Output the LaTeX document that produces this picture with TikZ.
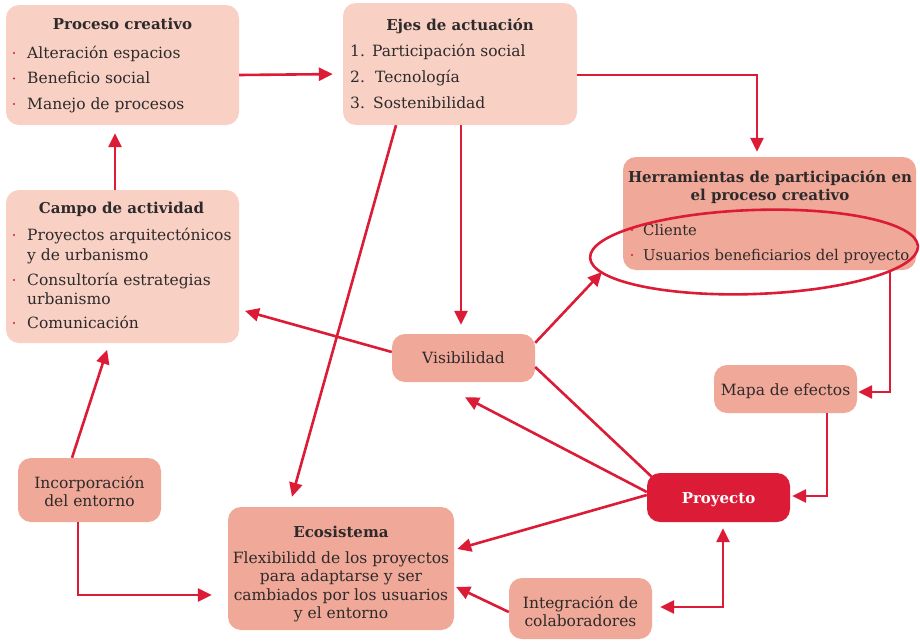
\documentclass[tikz,border=0pt]{standalone}
\usepackage{fontspec}
\setmainfont{DejaVu Serif}
\usetikzlibrary{arrows.meta,shapes.geometric,calc}
\definecolor{lightfill}{HTML}{F8D1C4}
\definecolor{midfill}{HTML}{F0A898}
\definecolor{redc}{HTML}{DC1B36}
\definecolor{txtc}{HTML}{2E2A2B}
\newcommand\bodyf{\fontsize{15.5}{18}\selectfont}
\newcommand\smallbodyf{\fontsize{14.8}{18}\selectfont}
\newcommand\titf{\fontsize{15}{18}\selectfont\bfseries}
\begin{document}
\begin{tikzpicture}[x=1pt,y=-1pt,
 box/.style={rectangle, rounded corners=13pt, draw=none, inner sep=0pt},
 lbox/.style={box, fill=lightfill},
 mbox/.style={box, fill=midfill},
 rbox/.style={box, fill=redc},
 tx/.style={anchor=base, inner sep=0pt, text=txtc, font=\bodyf},
 txl/.style={tx, anchor=base west},
 tt/.style={anchor=base, inner sep=0pt, text=txtc, font=\titf},
 arr/.style={draw=redc, line width=2.6pt, -{Triangle[length=14pt,width=13pt]}},
 ln/.style={draw=redc, line width=2.6pt},
 dotb/.style={circle, fill=redc, inner sep=0pt, minimum size=2.4pt},
]
\useasboundingbox (0,0) rectangle (920,640);
% boxes
\node[lbox, minimum width=233pt, minimum height=120pt] (proc) at (122.5,65) {};
\node[lbox, minimum width=234pt, minimum height=122pt] (ejes) at (460,64) {};
\node[mbox, minimum width=293pt, minimum height=113pt] (herr) at (769.5,213.5) {};
\node[lbox, minimum width=233pt, minimum height=153pt] (campo) at (122.5,266.5) {};
\node[mbox, minimum width=143pt, minimum height=48pt] (vis) at (463.5,358) {};
\node[mbox, minimum width=143pt, minimum height=48pt] (mapa) at (785.5,389) {};
\node[rbox, minimum width=143pt, minimum height=49pt] (proy) at (718.5,497.5) {};
\node[mbox, minimum width=143pt, minimum height=64pt] (inc) at (89.5,490) {};
\node[mbox, minimum width=226pt, minimum height=123pt] (eco) at (341,568.5) {};
\node[mbox, minimum width=143pt, minimum height=61pt] (integ) at (580.5,608.5) {};
% Proceso creativo
\node[tt] (procT) at (122.5,29) {Proceso creativo};
\node[dotb] (pb1) at (14,53) {};
\node[dotb] (pb2) at (14,78.5) {};
\node[dotb] (pb3) at (14,104) {};
\node[txl] (proc1) at (27,58) {Alteración espacios};
\node[txl] (proc2) at (27,83.5) {Beneficio social};
\node[txl] (proc3) at (27,109) {Manejo de procesos};
% Ejes
\node[tt] (ejesT) at (460,30) {Ejes de actuación};
\node[txl] (en1) at (350,56) {1.};
\node[txl] (en2) at (350,82.5) {2.};
\node[txl] (en3) at (350,108) {3.};
\node[txl] (ejes1) at (372,56) {Participación social};
\node[txl] (ejes2) at (375,82.5) {Tecnología};
\node[txl] (ejes3) at (373,108) {Sostenibilidad};
% Herramientas
\node[tt] (herrT1) at (770,182) {Herramientas de participación en};
\node[tt] (herrT2) at (770,200) {el proceso creativo};
\node[dotb] (hb1) at (632,230) {};
\node[dotb] (hb2) at (632,255) {};
\node[txl, font=\smallbodyf] (herr1) at (643,235) {Cliente};
\node[txl, font=\smallbodyf] (herr2) at (643,260) {Usuarios beneficiarios del proyecto};
% Campo
\node[tt] (campoT) at (121.5,213) {Campo de actividad};
\node[dotb] (cb1) at (14,235) {};
\node[dotb] (cb2) at (14,280) {};
\node[dotb] (cb3) at (14,323) {};
\node[txl] (campo1) at (27,240) {Proyectos arquitectónicos};
\node[txl] (campo1b) at (27,260) {y de urbanismo};
\node[txl] (campo2) at (27,285) {Consultoría estrategias};
\node[txl] (campo2b) at (27,304) {urbanismo};
\node[txl] (campo3) at (27,328) {Comunicación};
% small boxes
\node[tx] (visT) at (463.5,363) {Visibilidad};
\node[tx] (mapaT) at (785.5,395) {Mapa de efectos};
\node[anchor=base, inner sep=0pt, text=white, font=\titf] (proyT) at (718.5,503) {Proyecto};
\node[tx] (incT1) at (89.5,488) {Incorporación};
\node[tx] (incT2) at (89.5,506.5) {del entorno};
\node[tx] (integT1) at (580.5,608) {Integración de};
\node[tx] (integT2) at (580.5,626.5) {colaboradores};
% Ecosistema
\node[tt] (ecoT) at (341,537) {Ecosistema};
\node[tx] (eco1) at (341,563) {Flexibilidd de los proyectos};
\node[tx] (eco2) at (341,581.5) {para adaptarse y ser};
\node[tx] (eco3) at (341,600) {cambiados por los usuarios};
\node[tx] (eco4) at (341,618.5) {y el entorno};
% ellipse
\node[ellipse, draw=redc, line width=2.6pt, minimum width=328pt, minimum height=84pt, inner sep=0pt, rotate=2] (ell) at (754,252) {};
\coordinate (ellpt) at (602,272);
% connectors
\draw[arr, shorten >=10pt] ([yshift=-10pt]proc.east) -- ([yshift=-10pt]ejes.west);
\draw[arr, shorten >=5pt] ([yshift=-11pt]ejes.east) -| ([xshift=-12.5pt]herr.north);
\draw[arr, shorten >=8pt] ([xshift=-7.5pt]campo.north) -- ([xshift=-7.5pt]proc.south);
\draw[arr, shorten >=9pt] ([xshift=1pt]ejes.south) -- ([xshift=-2.5pt]vis.north);
\draw[arr, shorten >=10.4pt] ([xshift=-64pt]ejes.south) -- ([xshift=-51.8pt]eco.north);
\draw[arr, shorten >=6pt] ([yshift=6pt]vis.west) -- ([yshift=-42.8pt]campo.east);
\draw[arr] ([yshift=-9pt]vis.north east) -- (ellpt);
\draw[ln] ([yshift=-9pt]vis.east) -- ([xshift=6pt,yshift=-5pt]proy.north west);
\draw[arr] ([yshift=5.5pt]proy.west) -- ([xshift=1.5pt,yshift=-15pt]vis.south);
\draw[arr] ([yshift=2.5pt]proy.west) -- ([xshift=3pt,yshift=19.5pt]eco.east);
\draw[arr, shorten >=1pt] ([xshift=120.5pt]herr.south) |- ([yshift=-3pt]mapa.east);
\draw[arr, shorten >=2pt] ([xshift=41.5pt]mapa.south) |- ([yshift=1.5pt]proy.east);
\draw[arr, shorten >=7pt] ([xshift=-17.5pt]inc.north) -- ([xshift=-13.2pt]campo.south);
\draw[arr, shorten >=16pt] ([xshift=-11.5pt]inc.south) |- ([yshift=-26.5pt]eco.west);
\draw[arr, shorten >=2pt] ([yshift=-3.5pt]integ.west) -- ([yshift=-17.5pt]eco.east);
\draw[arr, {Triangle[length=14pt,width=13pt]}-{Triangle[length=14pt,width=13pt]}, shorten <=8pt, shorten >=6pt] ([yshift=1.5pt]integ.east) -| ([xshift=4.5pt]proy.south);
\end{tikzpicture}
\end{document}
